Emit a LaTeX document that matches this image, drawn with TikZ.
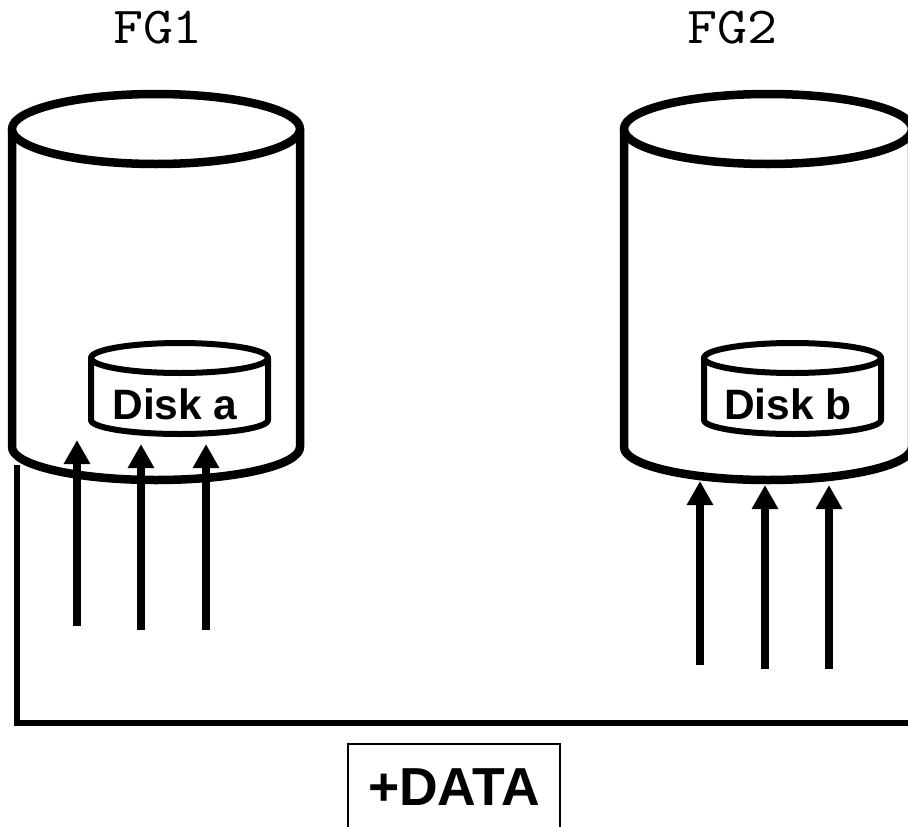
\documentclass[tikz,border=0pt]{standalone}
\usepackage{fontspec}
\setmainfont{Liberation Sans}
\setmonofont{Latin Modern Mono}
\usetikzlibrary{arrows.meta}
\tikzset{
  bigcyl/.style={line width=8.5pt,line join=round,line cap=round,fill=white},
  smallcyl/.style={line width=6pt,line join=round,line cap=round,fill=white},
  feed/.style={line width=8.5pt,-{Triangle[length=24pt,width=25pt]}},
  bus/.style={line width=6pt,line join=miter},
  disklabel/.style={font=\fontsize{42.5pt}{42.5pt}\selectfont\bfseries,anchor=base,inner sep=0pt},
  grouplabel/.style={font=\fontsize{52pt}{52pt}\selectfont\ttfamily,anchor=base,inner sep=0pt},
  databox/.style={draw,line width=2pt,minimum width=212pt,minimum height=86pt,inner sep=0pt,
    font=\fontsize{53.5pt}{53.5pt}\selectfont\bfseries}
}
\begin{document}
\begin{tikzpicture}[x=1pt,y=-1pt]
\useasboundingbox (0,0) rectangle (908,827);
\clip (0,0) rectangle (908,827);
% large cylinders
\draw[bigcyl] (12,129) -- (12,447) arc[start angle=180,end angle=360,x radius=144pt,y radius=33pt] -- (300,129);
\draw[bigcyl] (156,129) ellipse[x radius=144pt,y radius=35pt];
\draw[bigcyl] (624,129) -- (624,447) arc[start angle=180,end angle=360,x radius=144pt,y radius=33pt] -- (912,129);
\draw[bigcyl] (768,129) ellipse[x radius=144pt,y radius=35pt];
% small cylinders
\draw[smallcyl] (91,358) -- (91,420) arc[start angle=180,end angle=360,x radius=88.5pt,y radius=14pt] -- (268,358);
\draw[smallcyl] (179.5,358) ellipse[x radius=88.5pt,y radius=15pt];
\draw[smallcyl] (704,358) -- (704,420) arc[start angle=180,end angle=360,x radius=88.5pt,y radius=14pt] -- (881,358);
\draw[smallcyl] (792.5,358) ellipse[x radius=88.5pt,y radius=15pt];
% labels
\node[grouplabel] (fg1) at (158,43) {\scalebox{1.12}[1]{FG1}};
\node[grouplabel] (fg2) at (732,43) {\scalebox{1.12}[1]{FG2}};
\node[disklabel] (diska) at (175,419) {Disk a};
\node[disklabel] (diskb) at (788,419) {Disk b};
% arrows
\coordinate (a1s) at (77,626);  \coordinate (a1e) at (77,440);
\coordinate (a2s) at (141,630); \coordinate (a2e) at (141,444);
\coordinate (a3s) at (206,630); \coordinate (a3e) at (206,444);
\coordinate (b1s) at (700,665); \coordinate (b1e) at (700,481);
\coordinate (b2s) at (765,669); \coordinate (b2e) at (765,485);
\coordinate (b3s) at (829,669); \coordinate (b3e) at (829,485);
\foreach \n in {a1,a2,a3,b1,b2,b3} \draw[feed] (\n s) -- (\n e);
% bus line
\coordinate (bustop) at (17,465);
\coordinate (buscorner) at (17,722.5);
\coordinate (busend) at (910,722.5);
\draw[bus] (bustop) -- (buscorner) -- (busend);
% data box
\node[databox] (data) at (454,787) {+DATA};
\end{tikzpicture}
\end{document}
